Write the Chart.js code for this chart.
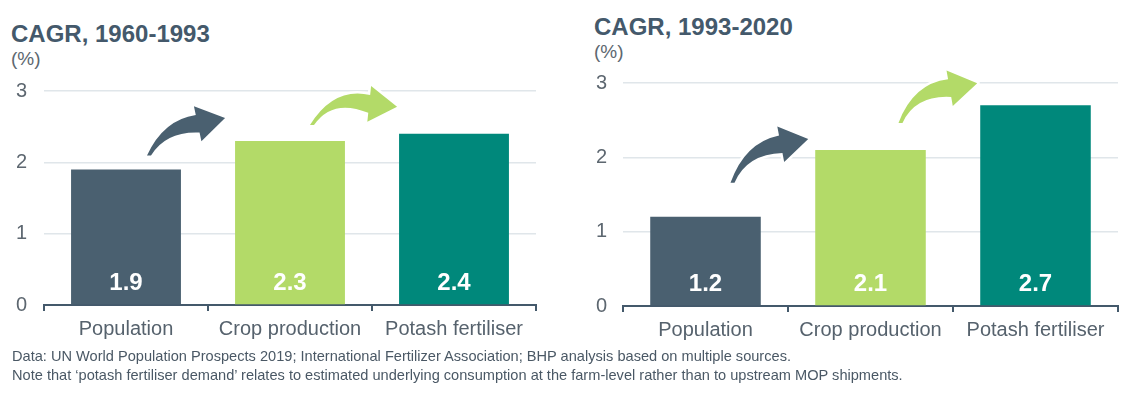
<!DOCTYPE html>
<html>
<head>
<meta charset="utf-8">
<script src="https://cdn.jsdelivr.net/npm/chart.js@4/dist/chart.umd.min.js"></script>
<style>
  body { margin: 0; width: 1121px; height: 395px; background: #fff; position: relative; overflow: hidden;
         font-family: "Liberation Sans", Arial, sans-serif; }
  .title { position: absolute; font-weight: bold; font-size: 24px; line-height: 24px; color: #44596b; }
  .unit { position: absolute; font-size: 19px; line-height: 19px; color: #5d6770; }
  .box { position: absolute; }
  .note { position: absolute; left: 12px; top: 347px; font-size: 14.6px; line-height: 19px; color: #4a5865; white-space: nowrap; }
</style>
</head>
<body>
<div class="title" style="left:11px; top:22px;">CAGR, 1960-1993</div>
<div class="unit" style="left:11px; top:49px;">(%)</div>
<div class="box" style="left:0; top:60px; width:560px; height:290px;"><canvas id="chart-early"></canvas></div>

<div class="title" style="left:594px; top:15px;">CAGR, 1993-2020</div>
<div class="unit" style="left:594px; top:42px;">(%)</div>
<div class="box" style="left:580px; top:50px; width:541px; height:300px;"><canvas id="chart-late"></canvas></div>

<div class="note">Data: UN World Population Prospects 2019; International Fertilizer Association; BHP analysis based on multiple sources.<br>Note that ‘potash fertiliser demand’ relates to estimated underlying consumption at the farm-level rather than to upstream MOP shipments.</div>

<script>
const categories = ["Population", "Crop production", "Potash fertiliser"];
const cagr1960to1993 = [1.9, 2.3, 2.4];
const cagr1993to2020 = [1.2, 2.1, 2.7];
const yTicks = [0, 1, 2, 3];

const slate = "#4a6070";
const lime = "#b3da68";
const teal = "#00887b";
const barColors = [slate, lime, teal];

Chart.defaults.font.family = "'Liberation Sans', Arial, sans-serif";

// white numbers near the foot of each bar
const valueLabels = {
	id: "valueLabels",
	afterDatasetsDraw(chart) {
		const ctx = chart.ctx;
		const meta = chart.getDatasetMeta(0);
		const data = chart.data.datasets[0].data;
		ctx.save();
		ctx.fillStyle = "#fff";
		ctx.font = "bold 24px 'Liberation Sans', Arial, sans-serif";
		ctx.textAlign = "center";
		ctx.textBaseline = "middle";
		meta.data.forEach((bar, i) => {
			ctx.fillText(data[i].toFixed(1), bar.x, bar.base - 21);
		});
		ctx.restore();
	},
};

// curved arrow with a white outline so it cuts the gridlines
// angle = direction of the head (degrees), bend = how far the body bows up
const drawArrow = (ctx, tail, tip, color, angle, bend) => {
	const ang = (angle * Math.PI) / 180;
	const u = { x: Math.cos(ang), y: Math.sin(ang) };
	const n = { x: u.y, y: -u.x };
	const headLen = 28, headHalf = 18, bodyHalf = 9;
	const b = { x: tip.x - headLen * u.x, y: tip.y - headLen * u.y };
	const dx = b.x - tail.x, dy = b.y - tail.y;
	const dist = Math.hypot(dx, dy);
	// control point: chord midpoint pushed up along the chord normal
	const c = {
		x: (tail.x + b.x) / 2 + (dy / dist) * bend * dist,
		y: (tail.y + b.y) / 2 - (dx / dist) * bend * dist,
	};
	ctx.beginPath();
	ctx.moveTo(tail.x, tail.y);
	ctx.quadraticCurveTo(c.x + n.x * bodyHalf, c.y + n.y * bodyHalf, b.x + n.x * bodyHalf, b.y + n.y * bodyHalf);
	ctx.lineTo(b.x + n.x * headHalf, b.y + n.y * headHalf);
	ctx.lineTo(tip.x, tip.y);
	ctx.lineTo(b.x - n.x * headHalf, b.y - n.y * headHalf);
	ctx.lineTo(b.x - n.x * bodyHalf, b.y - n.y * bodyHalf);
	ctx.quadraticCurveTo(c.x - n.x * bodyHalf * 0.3, c.y - n.y * bodyHalf * 0.3, tail.x + 4, tail.y);
	ctx.closePath();
	ctx.strokeStyle = "#fff";
	ctx.lineWidth = 5;
	ctx.lineJoin = "round";
	ctx.stroke();
	ctx.fillStyle = color;
	ctx.fill();
};

const growthArrows = {
	id: "growthArrows",
	afterDatasetsDraw(chart, args, opts) {
		const bars = chart.getDatasetMeta(0).data;
		const ctx = chart.ctx;
		ctx.save();
		opts.list.forEach((a) => {
			const from = bars[a.from];
			const to = bars[a.to];
			const tail = { x: from.x + a.tail[0], y: from.y + a.tail[1] };
			const tip = { x: to.x - to.width / 2 + a.tip[0], y: to.y + a.tip[1] };
			drawArrow(ctx, tail, tip, a.color, a.angle, a.bend);
		});
		ctx.restore();
	},
};

const buildChart = (canvasId, values, layout) => {
	const canvas = document.getElementById(canvasId);
	new Chart(canvas, {
		type: "bar",
		data: {
			labels: categories,
			datasets: [
				{
					data: values,
					backgroundColor: barColors,
					borderWidth: 0,
					barPercentage: 0.67,
					categoryPercentage: 1,
				},
			],
		},
		options: {
			responsive: true,
			maintainAspectRatio: false,
			animation: false,
			layout: { padding: layout.padding },
			plugins: {
				legend: { display: false },
				tooltip: { enabled: false },
				growthArrows: { list: layout.arrows },
			},
			scales: {
				x: {
					afterFit: (scale) => { scale.height = layout.xHeight; },
					border: { display: true, color: "#44596b", width: 2 },
					grid: { display: true, drawOnChartArea: false, drawTicks: true, tickLength: 6, color: "#44596b", lineWidth: 2 },
					ticks: { color: "#56626d", font: { size: 20 }, padding: 6, maxRotation: 0 },
				},
				y: {
					min: 0,
					max: 3,
					afterBuildTicks: (scale) => { scale.ticks = yTicks.map((v) => ({ value: v })); },
					afterFit: (scale) => { scale.width = layout.yWidth; },
					border: { display: false },
					grid: { color: "#e0e6ea", lineWidth: 1.5, drawTicks: false },
					ticks: { color: "#5d6770", font: { size: 20 }, padding: layout.tickPad },
				},
			},
		},
		plugins: [valueLabels, growthArrows],
	});
};

buildChart("chart-early", cagr1960to1993, {
	padding: { top: 31, right: 24, left: 0, bottom: 0 },
	xHeight: 45,
	yWidth: 44,
	tickPad: 17,
	arrows: [
		{ from: 0, to: 1, color: slate, tail: [21, -14], tip: [-10, -23], angle: -12, bend: 0.22 },
		{ from: 1, to: 2, color: lime, tail: [20, -16], tip: [-2, -27], angle: 6, bend: 0.32 },
	],
});

buildChart("chart-late", cagr1993to2020, {
	padding: { top: 33, right: 3, left: 0, bottom: 0 },
	xHeight: 44,
	yWidth: 43,
	tickPad: 16,
	arrows: [
		{ from: 0, to: 1, color: slate, tail: [25, -34], tip: [-7, -11], angle: -11, bend: 0.24 },
		{ from: 1, to: 2, color: lime, tail: [28, -27], tip: [-3, -22], angle: -10, bend: 0.26 },
	],
});
</script>
</body>
</html>
